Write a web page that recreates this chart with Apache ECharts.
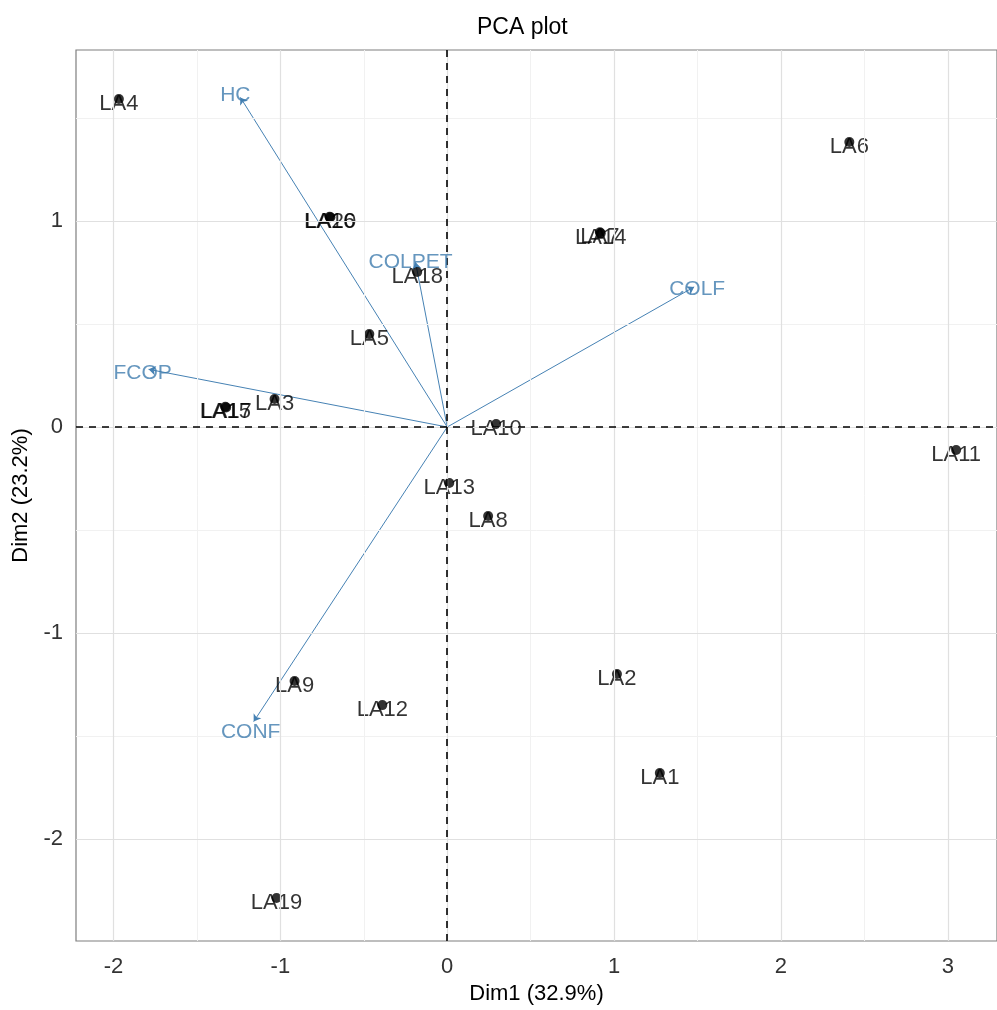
<!DOCTYPE html>
<html>
<head>
<meta charset="utf-8">
<script src="https://cdn.jsdelivr.net/npm/echarts@6/dist/echarts.min.js"></script>
<style>html,body{margin:0;padding:0;background:#fff}#c{width:997px;height:1010px}</style>
</head>
<body>
<div id="c"></div>
<script>
// ---- data ----
const pointNames = ['LA1','LA2','LA3','LA4','LA5','LA6','LA7','LA8','LA9','LA10','LA11','LA12','LA13','LA14','LA15','LA16','LA17','LA18','LA19','LA20'];
const dim1 = [1.274, 1.017, -1.035, -1.968, -0.467, 2.41, 0.915, 0.245, -0.915, 0.293, 3.05, -0.389, 0.012, 0.92, -1.33, -0.705, -1.325, -0.18, -1.023, -0.70];
const dim2 = [-1.68, -1.199, 0.136, 1.592, 0.451, 1.383, 0.945, -0.432, -1.233, 0.015, -0.112, -1.35, -0.272, 0.94, 0.098, 1.02, 0.095, 0.752, -2.286, 1.018];
const varNames = ['HC','COLPET','COLF','FCOP','CONF'];
const varDim1 = [-1.24, -0.19, 1.48, -1.79, -1.16];
const varDim2 = [1.60, 0.80, 0.68, 0.28, -1.43];
const xTicks = [-2, -1, 0, 1, 2, 3];
const yTicks = [-2, -1, 0, 1];
const xMinor = [-1.5, -0.5, 0.5, 1.5, 2.5];
const yMinor = [-1.5, -0.5, 0.5, 1.5];

// ---- styles ----
const varLabelOffset = {HC:[-5,-2], COLPET:[-5,0], COLF:[3,2], FCOP:[-6,4], CONF:[-3,11]};
const FONT = 'Liberation Sans, Arial, sans-serif';
const blue = '#4682B4';

const chart = echarts.init(document.getElementById('c'), null, {renderer:'canvas'});

const gridLines = [];
xMinor.forEach(v => gridLines.push({xAxis: v, lineStyle:{color:'#f1f1f1', width:1, type:'solid'}}));
yMinor.forEach(v => gridLines.push({yAxis: v, lineStyle:{color:'#f1f1f1', width:1, type:'solid'}}));
xTicks.forEach(v => gridLines.push({xAxis: v, lineStyle:{color:'#e0e0e0', width:1.2, type:'solid'}}));
yTicks.forEach(v => gridLines.push({yAxis: v, lineStyle:{color:'#e0e0e0', width:1.2, type:'solid'}}));

const points = pointNames.map((n, i) => ({name: n, value: [dim1[i], dim2[i]]}));
const arrows = varNames.map((n, i) => ({coords: [[0, 0], [varDim1[i], varDim2[i]]]}));
const varPts = varNames.map((n, i) => ({
  name: n, value: [varDim1[i], varDim2[i]],
  label: {offset: varLabelOffset[n]}
}));

chart.setOption({
  animation: false,
  backgroundColor: '#fff',
  title: {
    text: 'PCA plot', left: 472, top: 11,
    textStyle: {fontFamily: FONT, fontSize: 23, fontWeight: 'normal', color: '#000'}
  },
  grid: {left: 76, top: 50, width: 923, height: 891, show: true, borderColor: '#7f7f7f', borderWidth: 1.2, backgroundColor: 'transparent'},
  xAxis: {
    type: 'value', min: -2.225, max: 3.295,
    name: 'Dim1 (32.9%)', nameLocation: 'middle', nameGap: 37,
    nameTextStyle: {fontFamily: FONT, fontSize: 22, color: '#000'},
    axisLine: {show: false},
    axisTick: {show: true, length: 5, lineStyle: {color: '#333'}, customValues: xTicks},
    axisLabel: {fontFamily: FONT, fontSize: 22, color: '#333', margin: 15, customValues: xTicks},
    splitLine: {show: false}
  },
  yAxis: {
    type: 'value', min: -2.495, max: 1.830,
    name: 'Dim2 (23.2%)', nameLocation: 'middle', nameGap: 44,
    nameTextStyle: {fontFamily: FONT, fontSize: 22, color: '#000'},
    axisLine: {show: false},
    axisTick: {show: true, length: 5, lineStyle: {color: '#333'}, customValues: yTicks},
    axisLabel: {fontFamily: FONT, fontSize: 22, color: '#333', margin: 13, customValues: yTicks},
    splitLine: {show: false}
  },
  series: [
    {
      type: 'scatter', data: [], z: 1, silent: true,
      markLine: {silent: true, symbol: ['none','none'], label: {show: false}, data: gridLines, animation: false}
    },
    {
      type: 'scatter', data: [], z: 2, silent: true,
      markLine: {silent: true, symbol: ['none','none'], label: {show: false}, animation: false,
        lineStyle: {color: '#000', width: 1.6, type: [7, 6]},
        data: [{xAxis: 0}, {yAxis: 0}]}
    },
    {
      type: 'lines', coordinateSystem: 'cartesian2d', z: 3, silent: true,
      symbol: ['none', 'arrow'], symbolSize: 7,
      lineStyle: {color: blue, width: 1, opacity: 1},
      data: arrows
    },
    {
      type: 'scatter', z: 4, symbolSize: 10, itemStyle: {color: '#000'},
      label: {show: true, position: 'inside', offset: [0, 5], formatter: p => p.name,
        fontFamily: FONT, fontSize: 22, color: '#000'},
      data: points
    },
    {
      type: 'scatter', z: 5, symbolSize: 0, itemStyle: {color: blue},
      label: {show: true, position: 'inside', formatter: p => p.name,
        fontFamily: FONT, fontSize: 21, color: '#3f7cae'},
      data: varPts
    }
  ]
});
</script>
</body>
</html>
